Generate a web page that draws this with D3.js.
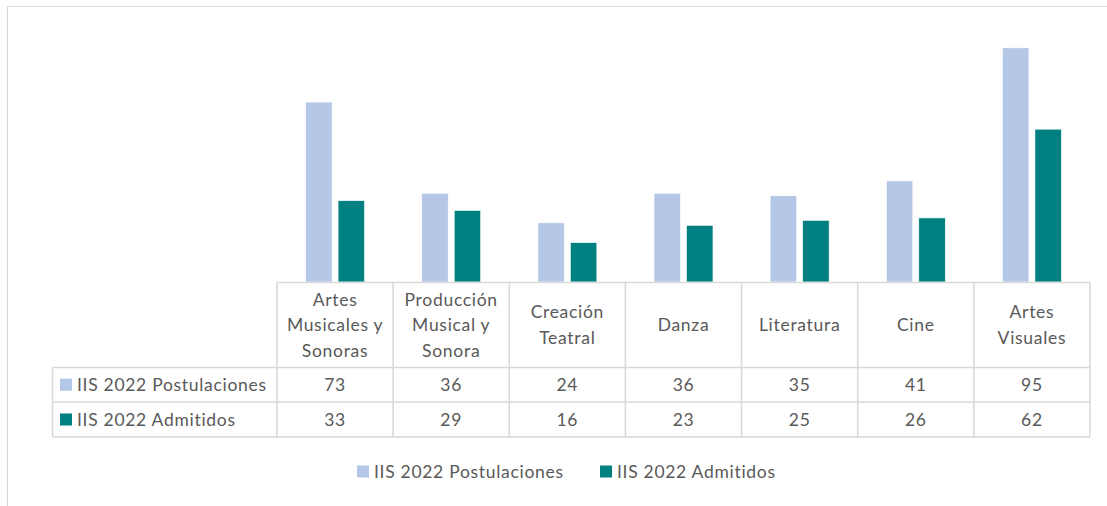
<!DOCTYPE html>
<html>
<head>
<meta charset="utf-8">
<script src="https://cdn.jsdelivr.net/npm/d3@7"></script>
<style>
  body { margin: 0; background: #fff; }
  text { font-family: Lato, "Open Sans", sans-serif; fill: #595959; letter-spacing: 0.7px; }
</style>
</head>
<body>
<script>
// data
var categories = ["Artes\nMusicales y\nSonoras", "Producción\nMusical y\nSonora", "Creación\nTeatral",
                  "Danza", "Literatura", "Cine", "Artes\nVisuales"];
var series = ["IIS 2022 Postulaciones", "IIS 2022 Admitidos"];
var postulaciones = [73, 36, 24, 36, 35, 41, 95];
var admitidos = [33, 29, 16, 23, 25, 26, 62];
var colors = ["#B4C7E7", "#008080"];

const WIDTH = 1107;
const HEIGHT = 506;
const FONT = 17.5;
const GRID = "#d9d9d9";

var values = [postulaciones, admitidos];

var svg = d3.select("body")
    .append("svg")
    .attr("width", WIDTH)
    .attr("height", HEIGHT);

// outer chart frame (cropped on right and bottom)
svg.append("path")
    .attr("d", "M7.5,506 V6.5 H1107")
    .attr("fill", "none")
    .attr("stroke", GRID)
    .attr("stroke-width", 1.2);

// scales
var x = d3.scaleBand()
    .domain(categories)
    .range([277, 1090]);

var xs = d3.scaleBand()
    .domain(series)
    .range([0, x.bandwidth()])
    .paddingInner(0.185)
    .paddingOuter(0.88);

var y = d3.scaleLinear()
    .domain([0, 100])
    .range([282, 35.5]);

// bars
var groups = svg.selectAll("g.cat")
    .data(categories)
    .enter()
    .append("g")
    .attr("class", "cat")
    .attr("transform", d => `translate(${x(d)},0)`);

groups.selectAll("rect")
    .data((d, i) => series.map((s, j) => ({ s: s, v: values[j][i], c: colors[j] })))
    .enter()
    .append("rect")
    .attr("x", d => xs(d.s))
    .attr("width", xs.bandwidth())
    .attr("y", d => y(d.v))
    .attr("height", d => y(0) - y(d.v))
    .attr("fill", d => d.c)
    .attr("stroke", "#fff")
    .attr("stroke-width", 0.6);

// data table
var tableTop = 282.5, row1 = 367.5, row2 = 402, tableBottom = 437;
var labelLeft = 52.5;
var table = svg.append("g")
    .attr("stroke", GRID)
    .attr("stroke-width", 1.6)
    .attr("fill", "none");

// horizontal lines
table.append("line").attr("x1", x.range()[0]).attr("x2", x.range()[1]).attr("y1", tableTop).attr("y2", tableTop);
[row1, row2, tableBottom].forEach(yy => {
    table.append("line").attr("x1", labelLeft).attr("x2", x.range()[1]).attr("y1", yy).attr("y2", yy);
});
// vertical lines
table.append("line").attr("x1", labelLeft).attr("x2", labelLeft).attr("y1", row1).attr("y2", tableBottom);
categories.concat([null]).forEach((c, i) => {
    var xx = c === null ? x.range()[1] : x(c);
    table.append("line").attr("x1", xx).attr("x2", xx).attr("y1", tableTop).attr("y2", tableBottom);
});

// header labels
var lineH = 25.5;
var headerMid = (tableTop + row1) / 2;
svg.selectAll("text.head")
    .data(categories)
    .enter()
    .append("text")
    .attr("class", "head")
    .attr("text-anchor", "middle")
    .attr("font-size", FONT)
    .each(function (d) {
        var lines = d.split("\n");
        var t = d3.select(this);
        lines.forEach((l, k) => {
            t.append("tspan")
                .attr("x", x(d) + x.bandwidth() / 2)
                .attr("y", headerMid + (k - (lines.length - 1) / 2) * lineH)
                .attr("dy", "0.35em")
                .text(l);
        });
    });

// value rows
var rowMid = [(row1 + row2) / 2, (row2 + tableBottom) / 2];
series.forEach((s, j) => {
    svg.selectAll("text.val" + j)
        .data(values[j])
        .enter()
        .append("text")
        .attr("class", "val" + j)
        .attr("text-anchor", "middle")
        .attr("font-size", FONT)
        .attr("x", (v, i) => x(categories[i]) + x.bandwidth() / 2)
        .attr("y", rowMid[j])
        .attr("dy", "0.35em")
        .text(v => v);

    // legend key in the table
    svg.append("rect")
        .attr("x", 60).attr("y", rowMid[j] - 6)
        .attr("width", 12).attr("height", 12)
        .attr("fill", colors[j]);
    svg.append("text")
        .attr("x", 77).attr("y", rowMid[j])
        .attr("dy", "0.35em")
        .attr("font-size", FONT)
        .text(s);
});

// bottom legend
var legendX = [357, 600];
var legendY = 471.5;
series.forEach((s, j) => {
    svg.append("rect")
        .attr("x", legendX[j]).attr("y", legendY - 6)
        .attr("width", 12).attr("height", 12)
        .attr("fill", colors[j]);
    svg.append("text")
        .attr("x", legendX[j] + 17).attr("y", legendY)
        .attr("dy", "0.35em")
        .attr("font-size", FONT)
        .text(s);
});
</script>
</body>
</html>
